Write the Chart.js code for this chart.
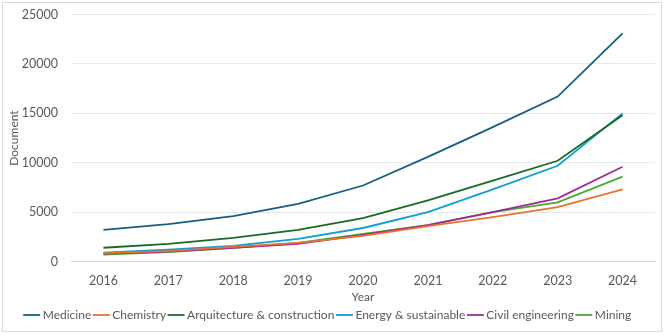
<!DOCTYPE html>
<html>
<head>
<meta charset="utf-8">
<script src="https://cdn.jsdelivr.net/npm/chart.js@4"></script>
<style>
  html, body { margin: 0; padding: 0; background: #fff; }
  #frame { position: absolute; left: 2px; top: 2px; width: 660px; height: 330px; border: 1px solid #d9d9d9; box-sizing: border-box; }
  #wrap { position: absolute; left: 3px; top: -6px; width: 658px; height: 337px; }
</style>
</head>
<body>
<div id="frame"></div>
<div id="wrap"><canvas id="myChart"></canvas></div>
<script>
const years = ['2016', '2017', '2018', '2019', '2020', '2021', '2022', '2023', '2024'];
const medicine = [3200, 3800, 4600, 5850, 7700, 10600, 13600, 16700, 23100];
const chemistry = [850, 1050, 1500, 1900, 2600, 3600, 4500, 5500, 7300];
const arquitecture = [1400, 1800, 2400, 3200, 4400, 6200, 8200, 10200, 14800];
const energy = [900, 1200, 1600, 2300, 3400, 5000, 7300, 9700, 15000];
const civil = [800, 1000, 1400, 1800, 2700, 3700, 5000, 6400, 9600];
const mining = [700, 950, 1400, 1900, 2800, 3700, 5000, 6000, 8600];
const yTicks = [0, 5000, 10000, 15000, 20000, 25000];

function series(label, data, color) {
    return {
        label: label,
        data: data,
        borderColor: color,
        backgroundColor: color,
        borderWidth: 1.8,
        pointRadius: 0,
        pointStyle: 'line',
        fill: false,
        tension: 0
    };
}

let ctx = document.getElementById('myChart').getContext('2d');
Chart.defaults.font.family = 'Lato, "Open Sans", sans-serif';
Chart.defaults.color = '#595959';

let docChart = new Chart(ctx, {
    type: 'line',
    data: {
        labels: years,
        datasets: [
            series('Medicine', medicine, '#156082'),
            series('Chemistry', chemistry, '#E97132'),
            series('Arquitecture & construction', arquitecture, '#196B24'),
            series('Energy & sustainable', energy, '#0F9ED5'),
            series('Civil engineering', civil, '#A02B93'),
            series('Mining', mining, '#4EA72E')
        ]
    },
    options: {
        responsive: true,
        maintainAspectRatio: false,
        animation: false,
        layout: { autoPadding: false, padding: { left: 0, right: 6, top: 1, bottom: 0 } },
        plugins: {
            legend: {
                position: 'bottom',
                labels: {
                    usePointStyle: true,
                    pointStyle: 'line',
                    boxWidth: 10,
                    padding: 5,
                    font: { size: 12 },
                    color: '#595959'
                }
            },
            tooltip: { enabled: false }
        },
        scales: {
            x: {
                offset: true,
                title: { display: true, text: 'Year', font: { size: 12 }, color: '#595959', padding: { top: -3, bottom: 0 } },
                grid: { display: false },
                border: { color: '#d9d9d9' },
                ticks: { font: { size: 12.5 }, color: '#595959', padding: 4 }
            },
            y: {
                min: 0,
                max: 25000,
                afterBuildTicks: axis => { axis.ticks = yTicks.map(v => ({ value: v })); },
                afterFit: axis => { axis.width = 68; },
                title: { display: true, text: 'Document', font: { size: 12 }, color: '#595959', padding: 4 },
                grid: { color: '#e8e8e8', drawTicks: false },
                border: { display: false },
                ticks: { font: { size: 12.5 }, color: '#595959', padding: 13, callback: v => String(v) }
            }
        }
    }
});
</script>
</body>
</html>
